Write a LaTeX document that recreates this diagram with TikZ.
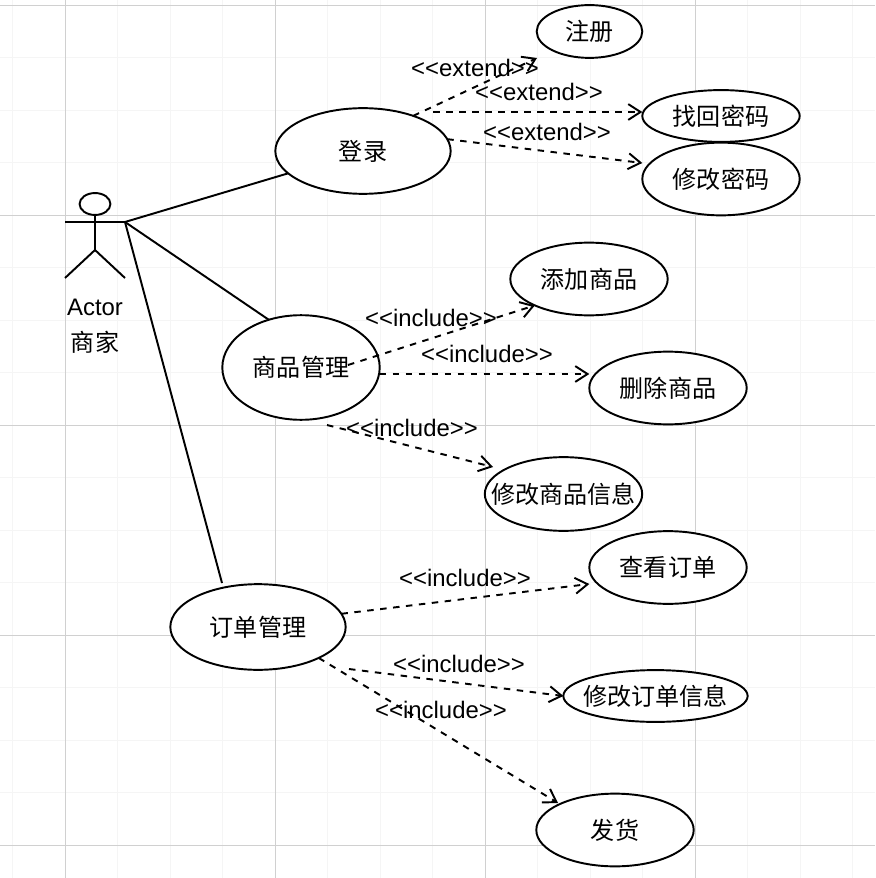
\documentclass[tikz,border=0pt]{standalone}
\usepackage{fontspec}
\setmainfont{Liberation Sans}
\newfontfamily\cjk{Noto Sans CJK SC}
\usetikzlibrary{shapes.geometric, arrows.meta}
\tikzset{
	usecase/.style={draw=black,fill=white,ellipse,line width=1.1pt,inner sep=0pt,outer sep=0pt,font=\cjk\fontsize{13.7}{16}\selectfont},
	stereo/.style={inner sep=0pt,font=\fontsize{13.6}{16}\selectfont},
	assoc/.style={line width=1.1pt},
	dep/.style={line width=1.1pt,dash pattern=on 3.7pt off 3.7pt,-{Straight Barb[length=7pt,width=9pt,line width=1.1pt]}}
}

\begin{document}
\begin{tikzpicture}[x=0.02cm,y=-0.02cm]
	\definecolor{minorgrid}{RGB}{245,245,245}
	\definecolor{majorgrid}{RGB}{208,208,208}
	\useasboundingbox (0,0) rectangle (875,878);
	% grid
	\foreach \i in {0,...,16} \draw[color=minorgrid,line width=0.5pt] ({12.5+52.5*\i},0) -- ({12.5+52.5*\i},878);
	\foreach \i in {0,...,16} \draw[color=minorgrid,line width=0.5pt] (0,{5+52.5*\i}) -- (875,{5+52.5*\i});
	\foreach \x in {65,275,485,695} \draw[color=majorgrid,line width=0.5pt] (\x,0) -- (\x,878);
	\foreach \y in {5,215,425,635,845} \draw[color=majorgrid,line width=0.5pt] (0,\y) -- (875,\y);
	% actor
	\node (head) at (95,204) [draw=black,fill=white,ellipse,line width=1.1pt,inner sep=0pt,outer sep=0pt,minimum width=31*0.567pt,minimum height=22*0.567pt] {};
	\coordinate (hip) at (95,250);
	\coordinate (handl) at (65,222);
	\coordinate (handr) at (125,222);
	\coordinate (footl) at (65,278);
	\coordinate (footr) at (125,278);
	\draw[assoc] (head) -- (hip);
	\draw[assoc] (handl) -- (handr);
	\draw[assoc] (footl) -- (hip) -- (footr);
	\node (actor) at (95,307) [stereo] {Actor};
	\node (shop) at (95,342) [stereo,font=\cjk\fontsize{13.7}{16}\selectfont] {商家};
	% use cases
	\node (login) at (363,151) [usecase,minimum width=176*0.567pt,minimum height=86*0.567pt] {登录};
	\node (register) at (589.5,31.5) [usecase,minimum width=106*0.567pt,minimum height=53*0.567pt] {注册};
	\node (findpw) at (721,116) [usecase,minimum width=158*0.567pt,minimum height=52*0.567pt] {找回密码};
	\node (editpw) at (721,179) [usecase,minimum width=158*0.567pt,minimum height=73*0.567pt] {修改密码};
	\node (goods) at (301,367.5) [usecase,minimum width=158*0.567pt,minimum height=105*0.567pt] {商品管理};
	\node (addgoods) at (589,279) [usecase,minimum width=158*0.567pt,minimum height=73*0.567pt] {添加商品};
	\node (delgoods) at (668,388) [usecase,minimum width=158*0.567pt,minimum height=73*0.567pt] {删除商品};
	\node (editgoods) at (563.5,494) [usecase,minimum width=158*0.567pt,minimum height=74*0.567pt] {\makebox[0pt]{修改商品信息}};
	\node (orders) at (258,627) [usecase,minimum width=176*0.567pt,minimum height=86*0.567pt] {订单管理};
	\node (vieworder) at (668,567.5) [usecase,minimum width=158*0.567pt,minimum height=73*0.567pt] {查看订单};
	\node (editorder) at (655.5,696) [usecase,minimum width=185*0.567pt,minimum height=52*0.567pt] {\makebox[0pt]{修改订单信息}};
	\node (ship) at (615,830) [usecase,minimum width=158*0.567pt,minimum height=73*0.567pt] {发货};
	% associations
	\draw[assoc] (handr) -- (login);
	\draw[assoc] (handr) -- (goods.124.5);
	\coordinate (ordersout) at (222,583);
	\draw[assoc] (handr) -- (ordersout);
	% free ends of the dashed lines
	\coordinate (loginout) at (433,112);
	\coordinate (registertip) at (537,58);
	\coordinate (goodsin) at (348,365);
	\coordinate (goodsout) at (327,425);
	\coordinate (editgoodstip) at (493,467);
	\coordinate (orderbend) at (349,669);
	\coordinate (shiptip) at (558,803);
	\draw[dep] (login.35) -- (registertip);
	\draw[dep] (loginout) -- (findpw.west |- loginout);
	\draw[dep] (login.8) -- (editpw.west |- 0,163);
	\draw[dep] (goodsin) -- (addgoods.206);
	\draw[dep] (goods.east |- 0,374) -- (delgoods.west |- 0,374);
	\draw[dep] (goodsout) -- (editgoodstip);
	\draw[dep] (orders.9.6) -- (vieworder.west |- 0,584);
	\draw[dep] (orderbend) -- (editorder.west);
	\draw[dep] (orders.-27) -- (shiptip);
	% labels
	\node (extenda) at (475,68) [stereo] {<{}<extend>{}>};
	\node (extendb) at (539,92) [stereo] {<{}<extend>{}>};
	\node (extendc) at (547,132) [stereo] {<{}<extend>{}>};
	\node (includea) at (431,318) [stereo] {<{}<include>{}>};
	\node (includeb) at (487,354) [stereo] {<{}<include>{}>};
	\node (includec) at (412,428) [stereo] {<{}<include>{}>};
	\node (included) at (465,578) [stereo] {<{}<include>{}>};
	\node (includee) at (459,664) [stereo] {<{}<include>{}>};
	\node (includef) at (441,710) [stereo] {<{}<include>{}>};
\end{tikzpicture}
\end{document}
